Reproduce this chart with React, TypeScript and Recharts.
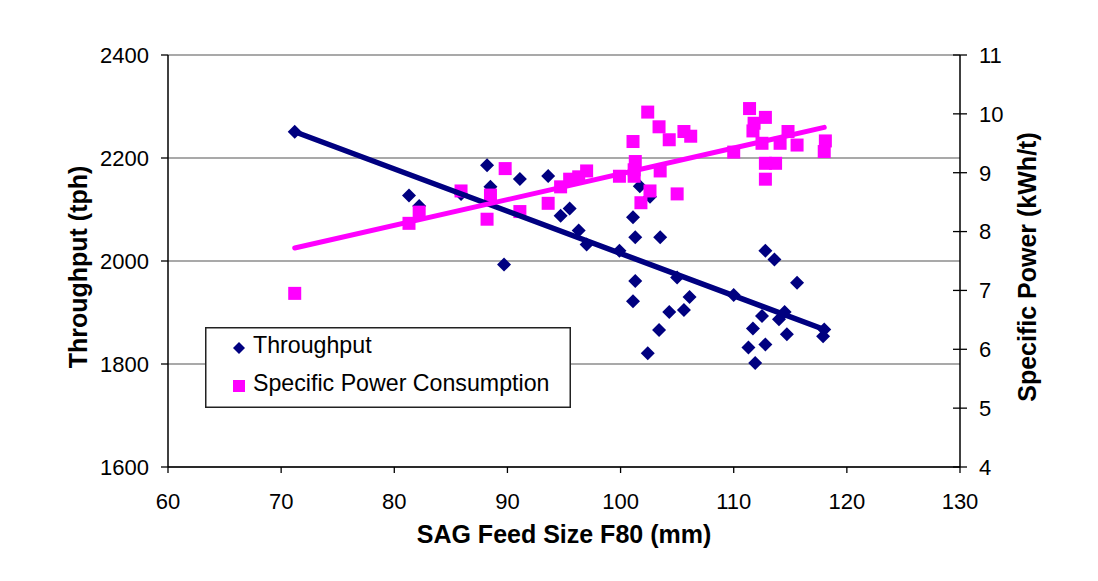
import {
  CartesianGrid,
  ComposedChart,
  Label,
  Legend,
  Scatter,
  XAxis,
  YAxis,
} from "recharts";

const FONT = '"Liberation Sans", Arial, sans-serif';
const NAVY = "#000080";
const MAGENTA = "#ff00ff";

// SAG feed size F80 (mm) vs throughput (tph)
const feedSizeT = [
  71.2, 81.3, 82.2, 85.9, 88.2, 88.5, 89.7, 91.1, 93.6, 94.7, 95.5, 96.3, 97.0, 99.9,
  101.1, 101.3, 101.3, 101.1, 101.7, 102.6, 102.4, 103.4, 103.5, 104.3, 105.0, 105.6,
  106.1, 110.0, 111.3, 111.7, 111.9, 112.5, 112.8, 112.8, 113.6, 114.0, 114.5, 114.7,
  115.6, 117.9, 118.0,
];
const throughput = [
  2251, 2127, 2107, 2130, 2186, 2144, 1993, 2159, 2165, 2088, 2102, 2059, 2032, 2020,
  2085, 2046, 1961, 1922, 2145, 2125, 1821, 1866, 2046, 1901, 1968, 1905,
  1930, 1934, 1832, 1869, 1802, 1893, 1838, 2020, 2003, 1887, 1901, 1858,
  1958, 1854, 1867,
];

// SAG feed size F80 (mm) vs specific power (kWh/t)
const feedSizeP = [
  71.2, 81.3, 82.2, 85.9, 88.2, 88.5, 89.8, 91.1, 93.6, 94.7, 95.5, 96.3, 97.0, 99.9,
  101.1, 101.3, 101.2, 101.2, 101.8, 102.6, 102.4, 103.4, 103.5, 104.3, 105.0, 105.6,
  106.2, 110.0, 111.4, 111.7, 111.8, 112.5, 112.8, 112.8, 113.7, 112.8, 114.1, 114.8,
  115.6, 118.0, 118.1,
];
const specificPower = [
  6.95, 8.14, 8.33, 8.69, 8.21, 8.62, 9.07, 8.34, 8.48, 8.76, 8.89, 8.93, 9.03, 8.94,
  9.53, 9.19, 9.05, 8.94, 8.49, 8.69, 10.03, 9.78, 9.03, 9.56, 8.64, 9.70,
  9.62, 9.35, 10.09, 9.71, 9.84, 9.5, 9.94, 9.16, 9.16, 8.89, 9.5, 9.7,
  9.47, 9.36, 9.54,
];

// linear trend lines (end points)
const trendX = [71.2, 118];
const throughputTrend = [2251, 1867];
const powerTrend = [7.72, 9.77];

const xTicks = [60, 70, 80, 90, 100, 110, 120, 130];
const leftTicks = [1600, 1800, 2000, 2200, 2400];
const rightTicks = [4, 5, 6, 7, 8, 9, 10, 11];

const tData = feedSizeT.map((x, i) => ({ x, y: throughput[i] }));
const pData = feedSizeP.map((x, i) => ({ x, y: specificPower[i] }));
const tTrend = trendX.map((x, i) => ({ x, y: throughputTrend[i] }));
const pTrend = trendX.map((x, i) => ({ x, y: powerTrend[i] }));

const Diamond = (props: any) => {
  const { cx, cy } = props;
  const r = 7;
  return (
    <polygon
      points={`${cx},${cy - r} ${cx + r},${cy} ${cx},${cy + r} ${cx - r},${cy}`}
      fill={NAVY}
    />
  );
};

const Square = (props: any) => {
  const { cx, cy } = props;
  return <rect x={cx - 6.5} y={cy - 6.5} width={13} height={13} fill={MAGENTA} />;
};

const NoShape = () => <g />;

const RightTick = (props: any) => {
  const { x, y, payload } = props;
  return (
    <g>
      <line x1={x - 7} x2={x + 7} y1={y} y2={y} stroke="#000" strokeWidth={1.3} />
      <text x={x + 19} y={y} dy="0.36em" fontSize={22} fontFamily={FONT} fill="#000">
        {payload.value}
      </text>
    </g>
  );
};

const titleStyle = { fontSize: 25, fontWeight: 700, fontFamily: FONT, fill: "#000" };

const renderLegend = () => (
  <svg width={366} height={81} style={{ display: "block" }}>
    <rect x={0.75} y={0.75} width={364.5} height={79.5} fill="#fff" stroke="#222" strokeWidth={1.5} />
    <polygon points="34,15 40,21 34,27 28,21" fill={NAVY} />
    <text x={48} y={26} fontSize={23.2} fontFamily={FONT} fill="#000">
      Throughput
    </text>
    <rect x={28} y={53} width={12} height={12} fill={MAGENTA} />
    <text x={48} y={64} fontSize={23.2} fontFamily={FONT} fill="#000">
      Specific Power Consumption
    </text>
  </svg>
);

export default function App() {
  return (
    <div style={{ position: "absolute", left: 0, top: 0, background: "#fff" }}>
      <ComposedChart
        width={1098}
        height={581}
        margin={{ top: 55, right: 0, bottom: 54, left: 0 }}
      >
        <CartesianGrid horizontal vertical={false} stroke="#555" strokeWidth={1.2} yAxisId="left" />
        <XAxis
          type="number"
          dataKey="x"
          domain={[60, 130]}
          ticks={xTicks}
          height={60}
          tickSize={6}
          tickMargin={20}
          axisLine={{ stroke: "#000", strokeWidth: 1.5 }}
          tickLine={{ stroke: "#000", strokeWidth: 1.3 }}
          tick={{ fontSize: 22, fill: "#000", fontFamily: FONT }}
          allowDataOverflow
        >
          <Label
            content={({ viewBox }: any) => (
              <text x={viewBox.x + viewBox.width / 2} y={543} textAnchor="middle" style={titleStyle}>
                SAG Feed Size F80 (mm)
              </text>
            )}
          />
        </XAxis>
        <YAxis
          yAxisId="left"
          type="number"
          dataKey="y"
          domain={[1600, 2400]}
          ticks={leftTicks}
          width={168}
          tickSize={7}
          tickMargin={12}
          axisLine={{ stroke: "#000", strokeWidth: 1.5 }}
          tickLine={{ stroke: "#000", strokeWidth: 1.3 }}
          tick={{ fontSize: 22, fill: "#000", fontFamily: FONT }}
          allowDataOverflow
        >
          <Label
            content={() => (
              <text x={87} y={267} transform="rotate(-90, 87, 267)" textAnchor="middle" style={titleStyle}>
                Throughput (tph)
              </text>
            )}
          />
        </YAxis>
        <YAxis
          yAxisId="right"
          orientation="right"
          type="number"
          dataKey="y"
          domain={[4, 11]}
          ticks={rightTicks}
          width={138}
          tickSize={0}
          tickMargin={0}
          tickLine={false}
          axisLine={{ stroke: "#000", strokeWidth: 1.5 }}
          tick={<RightTick />}
          allowDataOverflow
        >
          <Label
            content={() => (
              <text x={1036} y={267} transform="rotate(-90, 1036, 267)" textAnchor="middle" style={titleStyle}>
                Specific Power (kWh/t)
              </text>
            )}
          />
        </YAxis>
        <Scatter
          name="Throughput"
          data={tData}
          dataKey="y"
          yAxisId="left"
          shape={<Diamond />}
          isAnimationActive={false}
        />
        <Scatter
          name="Specific Power Consumption"
          data={pData}
          dataKey="y"
          yAxisId="right"
          shape={<Square />}
          isAnimationActive={false}
        />
        <Scatter
          data={tTrend}
          dataKey="y"
          yAxisId="left"
          shape={<NoShape />}
          line={{ stroke: NAVY, strokeWidth: 5.5, strokeLinecap: "round" }}
          legendType="none"
          isAnimationActive={false}
        />
        <Scatter
          data={pTrend}
          dataKey="y"
          yAxisId="right"
          shape={<NoShape />}
          line={{ stroke: MAGENTA, strokeWidth: 5, strokeLinecap: "round" }}
          legendType="none"
          isAnimationActive={false}
        />
        <Legend
          content={renderLegend}
          layout="horizontal"
          align="center"
          verticalAlign="middle"
          wrapperStyle={{ left: 205, top: 327, width: 366, height: 81 }}
        />
      </ComposedChart>
    </div>
  );
}
